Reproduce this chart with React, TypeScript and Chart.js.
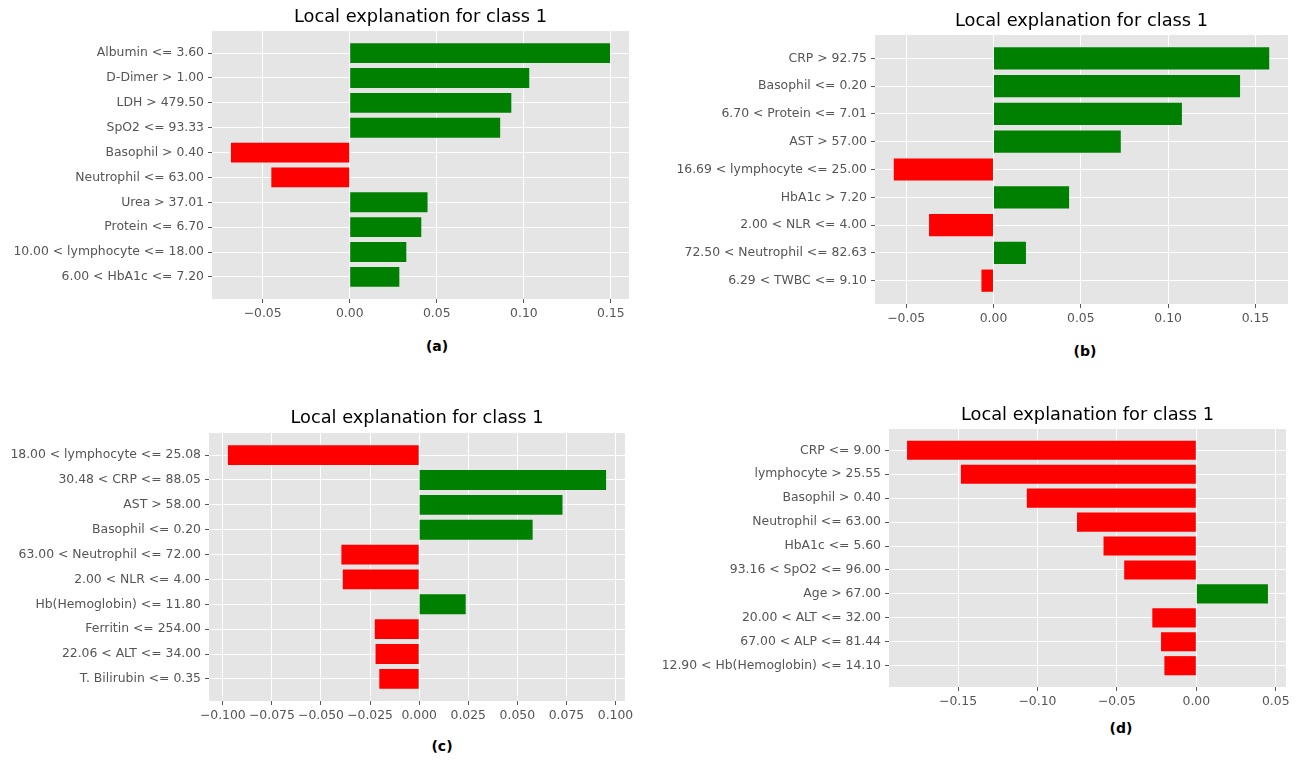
import React, { useEffect, useRef } from "react";
import { Chart, registerables } from "chart.js";

Chart.register(...registerables);

const TITLE = "Local explanation for class 1";
const POS_COLOR = "#008000";
const NEG_COLOR = "#FF0000";

// Panel (a)
const labelsA = [
  "Albumin <= 3.60",
  "D-Dimer > 1.00",
  "LDH > 479.50",
  "SpO2 <= 93.33",
  "Basophil > 0.40",
  "Neutrophil <= 63.00",
  "Urea > 37.01",
  "Protein <= 6.70",
  "10.00 < lymphocyte <= 18.00",
  "6.00 < HbA1c <= 7.20",
];
const valuesA = [0.1495, 0.1031, 0.0928, 0.0864, -0.0682, -0.045, 0.0447, 0.0411, 0.0325, 0.0285];
const ticksA = [-0.05, 0, 0.05, 0.1, 0.15];

// Panel (b)
const labelsB = [
  "CRP > 92.75",
  "Basophil <= 0.20",
  "6.70 < Protein <= 7.01",
  "AST > 57.00",
  "16.69 < lymphocyte <= 25.00",
  "HbA1c > 7.20",
  "2.00 < NLR <= 4.00",
  "72.50 < Neutrophil <= 82.63",
  "6.29 < TWBC <= 9.10",
];
const valuesB = [0.1579, 0.1412, 0.1079, 0.0729, -0.0571, 0.0433, -0.0369, 0.0186, -0.0069];
const ticksB = [-0.05, 0, 0.05, 0.1, 0.15];

// Panel (c)
const labelsC = [
  "18.00 < lymphocyte <= 25.08",
  "30.48 < CRP <= 88.05",
  "AST > 58.00",
  "Basophil <= 0.20",
  "63.00 < Neutrophil <= 72.00",
  "2.00 < NLR <= 4.00",
  "Hb(Hemoglobin) <= 11.80",
  "Ferritin <= 254.00",
  "22.06 < ALT <= 34.00",
  "T. Bilirubin <= 0.35",
];
const valuesC = [-0.0974, 0.0952, 0.073, 0.0578, -0.0396, -0.0389, 0.0237, -0.0226, -0.0222, -0.0203];
const ticksC = [-0.1, -0.075, -0.05, -0.025, 0, 0.025, 0.05, 0.075, 0.1];

// Panel (d)
const labelsD = [
  "CRP <= 9.00",
  "lymphocyte > 25.55",
  "Basophil > 0.40",
  "Neutrophil <= 63.00",
  "HbA1c <= 5.60",
  "93.16 < SpO2 <= 96.00",
  "Age > 67.00",
  "20.00 < ALT <= 32.00",
  "67.00 < ALP <= 81.44",
  "12.90 < Hb(Hemoglobin) <= 14.10",
];
const valuesD = [-0.1821, -0.1482, -0.1067, -0.0751, -0.0584, -0.0454, 0.0451, -0.0277, -0.0222, -0.0201];
const ticksD = [-0.15, -0.1, -0.05, 0, 0.05];

type Layout = {
  box: { left: number; top: number; width: number; height: number };
  plot: { l: number; r: number; t: number; b: number };
  titleY: number;
  caption: { x: number; y: number };
};

type PanelSpec = {
  labels: string[];
  values: number[];
  ticks: number[];
  decimals: number;
  caption: string;
  layout: Layout;
};

const panels: PanelSpec[] = [
  {
    labels: labelsA,
    values: valuesA,
    ticks: ticksA,
    decimals: 2,
    caption: "(a)",
    layout: {
      box: { left: 0, top: 0, width: 650, height: 330 },
      plot: { l: 212, r: 629, t: 31, b: 299 },
      titleY: 17,
      caption: { x: 437, y: 346 },
    },
  },
  {
    labels: labelsB,
    values: valuesB,
    ticks: ticksB,
    decimals: 2,
    caption: "(b)",
    layout: {
      box: { left: 650, top: 0, width: 655, height: 335 },
      plot: { l: 875, r: 1288, t: 35, b: 304 },
      titleY: 21,
      caption: { x: 1085, y: 351 },
    },
  },
  {
    labels: labelsC,
    values: valuesC,
    ticks: ticksC,
    decimals: 3,
    caption: "(c)",
    layout: {
      box: { left: 0, top: 380, width: 650, height: 352 },
      plot: { l: 209, r: 625, t: 433, b: 701 },
      titleY: 418,
      caption: { x: 442, y: 746 },
    },
  },
  {
    labels: labelsD,
    values: valuesD,
    ticks: ticksD,
    decimals: 2,
    caption: "(d)",
    layout: {
      box: { left: 650, top: 380, width: 655, height: 338 },
      plot: { l: 889, r: 1286, t: 429, b: 687 },
      titleY: 415,
      caption: { x: 1121, y: 728 },
    },
  },
];

const FONT = "'DejaVu Sans', sans-serif";
const TICK_SIZE = 12.4;
const TITLE_SIZE = 17.8;
const TITLE_LINE = 1.2;

// fills the plotting area with the grey ggplot-style background
const plotBackground = {
  id: "plotBackground",
  beforeDraw(chart: any) {
    const { ctx, chartArea } = chart;
    if (!chartArea) return;
    ctx.save();
    ctx.fillStyle = "#E5E5E5";
    ctx.fillRect(chartArea.left, chartArea.top, chartArea.right - chartArea.left, chartArea.bottom - chartArea.top);
    ctx.restore();
  },
};

const formatTick = (v: number, decimals: number) => {
  const s = Math.abs(v).toFixed(decimals);
  return v < -1e-12 ? "\u2212" + s : s;
};

function Panel({ spec }: { spec: PanelSpec }) {
  const ref = useRef<HTMLCanvasElement | null>(null);
  const { box, plot, titleY } = spec.layout;

  useEffect(() => {
    if (!ref.current) return;
    const n = spec.labels.length;

    // x limits: data range including zero, padded by 5% on both sides
    const lo = Math.min(0, ...spec.values);
    const hi = Math.max(0, ...spec.values);
    const xPad = (hi - lo) * 0.05;

    // y limits: bars of height 0.8 around integer positions, padded by 5%
    const yPad = 0.05 * (n - 1 + 0.8);
    const yMin = -0.4 - yPad;
    const yMax = n - 1 + 0.4 + yPad;

    const titleBox = TITLE_SIZE * TITLE_LINE;
    const padTop = titleY - box.top - titleBox / 2;
    const padBottom = plot.t - box.top - padTop - titleBox;

    const gridStyle = {
      color: "#FFFFFF",
      lineWidth: 1,
      drawTicks: true,
      tickLength: 4,
      tickColor: "#555555",
      tickWidth: 1,
      offset: false,
    };

    const chart = new Chart(ref.current, {
      type: "bar",
      data: {
        datasets: [
          {
            data: spec.values.map((v, i) => ({ x: v, y: i })),
            backgroundColor: spec.values.map((v) => (v >= 0 ? POS_COLOR : NEG_COLOR)),
            borderWidth: 0,
            barPercentage: 0.8,
            categoryPercentage: 1,
          },
        ],
      },
      options: {
        indexAxis: "y",
        responsive: false,
        animation: false,
        devicePixelRatio: 1,
        layout: {
          padding: { left: 0, top: 0, bottom: 0, right: box.left + box.width - plot.r },
        },
        plugins: {
          legend: { display: false },
          tooltip: { enabled: false },
          title: {
            display: true,
            text: TITLE,
            fullSize: false,
            color: "#000000",
            font: { family: FONT, size: TITLE_SIZE, weight: "normal", lineHeight: TITLE_LINE },
            padding: { top: padTop, bottom: padBottom },
          },
        },
        scales: {
          x: {
            type: "linear",
            position: "bottom",
            offset: false,
            min: lo - xPad,
            max: hi + xPad,
            afterBuildTicks: (scale: any) => {
              scale.ticks = spec.ticks.map((value) => ({ value }));
            },
            afterFit: (scale: any) => {
              scale.height = box.top + box.height - plot.b;
            },
            grid: gridStyle,
            border: { display: false },
            ticks: {
              color: "#555555",
              font: { family: FONT, size: TICK_SIZE },
              padding: 3,
              maxRotation: 0,
              autoSkip: false,
              callback: (v: any) => formatTick(Number(v), spec.decimals),
            },
          },
          y: {
            type: "linear",
            position: "left",
            reverse: true,
            offset: false,
            min: yMin,
            max: yMax,
            afterBuildTicks: (scale: any) => {
              scale.ticks = spec.labels.map((_, i) => ({ value: i }));
            },
            afterFit: (scale: any) => {
              scale.width = plot.l - box.left;
            },
            grid: gridStyle,
            border: { display: false },
            ticks: {
              color: "#555555",
              font: { family: FONT, size: TICK_SIZE },
              padding: 4,
              autoSkip: false,
              callback: (v: any) => spec.labels[Math.round(Number(v))] ?? "",
            },
          },
        },
      },
      plugins: [plotBackground],
    } as any);

    return () => chart.destroy();
  }, [spec]);

  return (
    <canvas
      ref={ref}
      width={box.width}
      height={box.height}
      style={{ position: "absolute", left: box.left, top: box.top, width: box.width, height: box.height }}
    />
  );
}

export default function App() {
  return (
    <div style={{ position: "absolute", left: 0, top: 0, width: 1305, height: 760, background: "#FFFFFF", overflow: "hidden" }}>
      {panels.map((p) => (
        <Panel key={p.caption} spec={p} />
      ))}
      {panels.map((p) => (
        <div
          key={"cap" + p.caption}
          style={{
            position: "absolute",
            left: p.layout.caption.x,
            top: p.layout.caption.y,
            transform: "translate(-50%, -50%)",
            fontFamily: FONT,
            fontWeight: "bold",
            fontSize: 14,
            color: "#000000",
            whiteSpace: "nowrap",
            lineHeight: 1,
          }}
        >
          {p.caption}
        </div>
      ))}
    </div>
  );
}
